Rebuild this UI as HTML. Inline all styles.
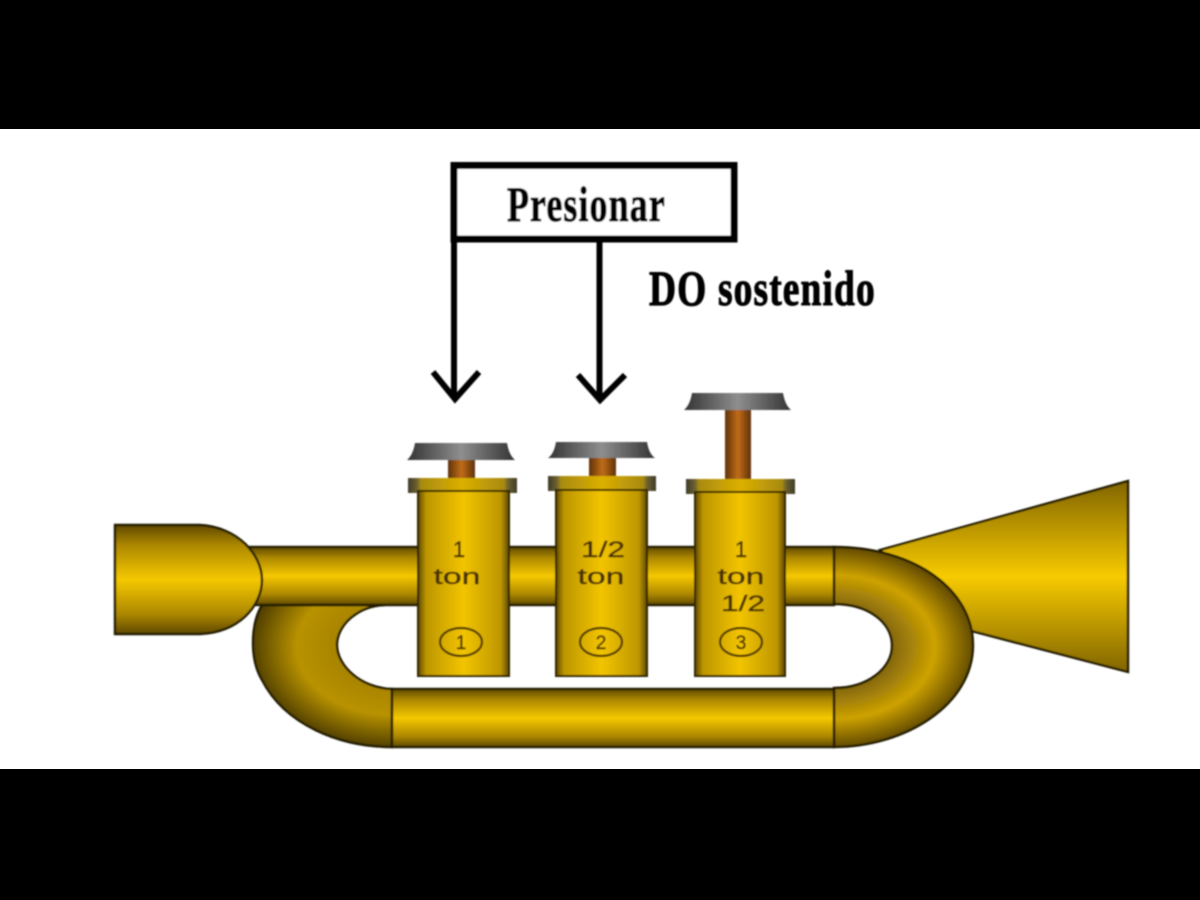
<!DOCTYPE html>
<html>
<head>
<meta charset="utf-8">
<style>
html,body{margin:0;padding:0;width:1200px;height:900px;overflow:hidden;background:#000}
svg{display:block}
</style>
</head>
<body>
<svg width="1200" height="900" viewBox="0 0 1200 900" xmlns="http://www.w3.org/2000/svg">
<defs>
<filter id="soft" x="-5%" y="-5%" width="110%" height="110%"><feGaussianBlur stdDeviation="0.8"/></filter>
<linearGradient id="v" x1="0" y1="0" x2="0" y2="1">
<stop offset="0" stop-color="#5e4800"/><stop offset="0.18" stop-color="#ab8604"/><stop offset="0.5" stop-color="#f5c800"/><stop offset="0.82" stop-color="#ab8604"/><stop offset="1" stop-color="#5e4800"/>
</linearGradient>
<linearGradient id="bell" x1="0" y1="0" x2="0" y2="1">
<stop offset="0" stop-color="#806402"/><stop offset="0.5" stop-color="#f7ca00"/><stop offset="1" stop-color="#806402"/>
</linearGradient>
<linearGradient id="h" x1="0" y1="0" x2="1" y2="0">
<stop offset="0" stop-color="#5e4800"/><stop offset="0.09" stop-color="#bd9604"/><stop offset="0.5" stop-color="#f2c400"/><stop offset="0.91" stop-color="#bd9604"/><stop offset="1" stop-color="#5e4800"/>
</linearGradient>
<linearGradient id="collar" x1="0" y1="0" x2="1" y2="0">
<stop offset="0" stop-color="#3e3a28"/><stop offset="0.08" stop-color="#6a6030"/><stop offset="0.12" stop-color="#a88a10"/><stop offset="0.5" stop-color="#dcb000"/><stop offset="0.88" stop-color="#a88a10"/><stop offset="0.92" stop-color="#6a6030"/><stop offset="1" stop-color="#3e3a28"/>
</linearGradient>
<linearGradient id="gray" x1="0" y1="0" x2="1" y2="0">
<stop offset="0" stop-color="#333"/><stop offset="0.5" stop-color="#8e8e8e"/><stop offset="1" stop-color="#333"/>
</linearGradient>
<linearGradient id="cop" x1="0" y1="0" x2="1" y2="0">
<stop offset="0" stop-color="#5e3208"/><stop offset="0.5" stop-color="#c06c18"/><stop offset="1" stop-color="#5e3208"/>
</linearGradient>
<radialGradient id="rr" gradientUnits="userSpaceOnUse" cx="0" cy="0" r="1" gradientTransform="translate(834 647) scale(140 100)">
<stop offset="0.4" stop-color="#80640a"/><stop offset="0.72" stop-color="#cda204"/><stop offset="1" stop-color="#624a00"/>
</radialGradient>
<radialGradient id="rl" gradientUnits="userSpaceOnUse" cx="0" cy="0" r="1" gradientTransform="translate(392 647) scale(140 100)">
<stop offset="0.4" stop-color="#a88404"/><stop offset="0.68" stop-color="#b89204"/><stop offset="1" stop-color="#524000"/>
</radialGradient>
</defs>
<rect x="0" y="129" width="1200" height="640" fill="#fff"/>

<g filter="url(#soft)">
<!-- bell -->
<path d="M880 550 L1128 481 L1128 672 L960 628 Z" fill="url(#bell)" stroke="#241c00" stroke-width="2.4"/>
<!-- loops -->
<path d="M834 547 C915 547 973 590 973 645 C973 705 905 747 834 747 L834 688 C868 688 892 668 892 646 C892 622 868 604 834 604 Z" fill="url(#rr)" stroke="#241c00" stroke-width="2.4"/>
<path d="M262 605 C250 625 250 660 262 680 C285 725 340 747 392 747 L392 689 C360 688 337 665 337 645 C337 625 358 606 385 605 Z" fill="url(#rl)" stroke="#241c00" stroke-width="2.4"/>
<rect x="392" y="689" width="442" height="58" fill="url(#v)" stroke="#241c00" stroke-width="2.4"/>
<!-- main tube -->
<rect x="250" y="547" width="584" height="58" fill="url(#v)" stroke="#241c00" stroke-width="2.4"/>
<!-- mouthpiece -->
<path d="M115 525 L200 525 C238 527 262 555 262 580 C262 606 238 633 200 634 L115 634 Z" fill="url(#v)" stroke="#241c00" stroke-width="2.4"/>

<!-- valve 1 -->
<rect x="448" y="459" width="27" height="20" fill="url(#cop)"/>
<path d="M415 443 L507 443 Q509 455 515 460 L407 460 Q413 455 415 443 Z" fill="url(#gray)"/>
<rect x="408" y="478" width="109" height="15" fill="url(#collar)"/>
<rect x="418" y="491" width="91" height="185" fill="url(#h)" stroke="#2e2200" stroke-width="2"/>
<!-- valve 2 -->
<rect x="589" y="457" width="27" height="20" fill="url(#cop)"/>
<path d="M556 442 L647 442 Q649 454 655 458 L548 458 Q554 454 556 442 Z" fill="url(#gray)"/>
<rect x="548" y="476" width="108" height="15" fill="url(#collar)"/>
<rect x="556" y="490" width="91" height="186" fill="url(#h)" stroke="#2e2200" stroke-width="2"/>
<!-- valve 3 -->
<rect x="725" y="409" width="26" height="71" fill="url(#cop)"/>
<path d="M692 393 L783 393 Q785 405 791 410 L684 410 Q690 405 692 393 Z" fill="url(#gray)"/>
<rect x="686" y="479" width="109" height="15" fill="url(#collar)"/>
<rect x="695" y="492" width="90" height="184" fill="url(#h)" stroke="#2e2200" stroke-width="2"/>

<!-- valve labels -->
<g font-family="'Liberation Sans',sans-serif" font-size="22" fill="#4a3000" stroke="#4a3000" stroke-width="0.4" text-anchor="middle">
<text x="459" y="557">1</text>
<text x="457" y="584" textLength="47" lengthAdjust="spacingAndGlyphs">ton</text>
<text x="603" y="557" textLength="44" lengthAdjust="spacingAndGlyphs">1/2</text>
<text x="601" y="584" textLength="47" lengthAdjust="spacingAndGlyphs">ton</text>
<text x="741" y="557">1</text>
<text x="741" y="584" textLength="47" lengthAdjust="spacingAndGlyphs">ton</text>
<text x="743" y="611" textLength="44" lengthAdjust="spacingAndGlyphs">1/2</text>
<text x="461" y="649" font-size="19">1</text>
<text x="601" y="649" font-size="19">2</text>
<text x="741" y="649" font-size="19">3</text>
</g>
<g fill="none" stroke="#4a3000" stroke-width="2.2">
<ellipse cx="461" cy="642" rx="21" ry="14"/>
<ellipse cx="601" cy="642" rx="21" ry="14"/>
<ellipse cx="741" cy="642" rx="21" ry="14"/>
</g>

<!-- label box -->
<rect x="454" y="165.5" width="280" height="73.5" fill="#fff" stroke="#050505" stroke-width="7"/>
<g font-family="'Liberation Serif',serif" font-weight="bold" font-size="50" fill="#050505" stroke="#050505" stroke-width="1">
<text transform="translate(507 221) scale(.72 1)" textLength="219" lengthAdjust="spacing">Presionar</text>
<text transform="translate(649 305) scale(.75 1)" textLength="301" lengthAdjust="spacing">DO sostenido</text>
</g>

<!-- arrows -->
<g fill="none" stroke="#050505" stroke-width="6">
<path d="M454 239 L454 398"/>
<path d="M433 372 L455 399 L479 372"/>
<path d="M599.5 239 L599.5 399"/>
<path d="M578 375 L600 400 L625 375"/>
</g>
</g>
</svg>
</body>
</html>
